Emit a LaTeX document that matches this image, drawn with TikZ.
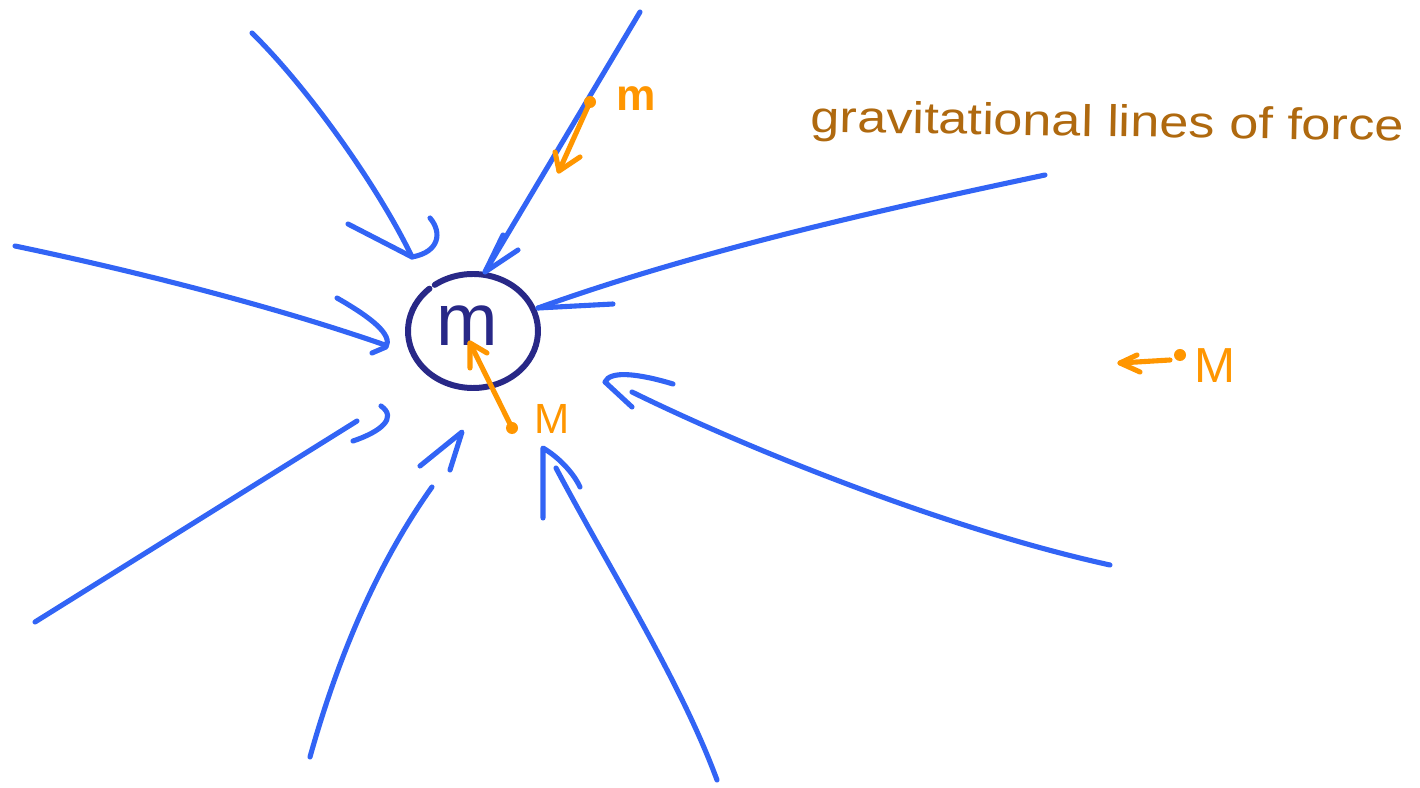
\documentclass[tikz,border=0pt]{standalone}
\usepackage{fontspec}
\setmainfont{Liberation Sans}
\definecolor{fieldblue}{RGB}{50,100,245}
\definecolor{pullorange}{RGB}{255,150,0}
\definecolor{textbrown}{RGB}{175,105,15}
\definecolor{massnavy}{RGB}{40,40,135}
\begin{document}
\begin{tikzpicture}[x=0.01cm,y=-0.01cm,
  field/.style={draw=fieldblue, line width=1.45pt, line cap=round, line join=round},
  pull/.style={draw=pullorange, line width=1.45pt, line cap=round, line join=round},
  massline/.style={draw=massnavy, line width=1.7pt, line cap=round},
  plabel/.style={text=pullorange, inner sep=0pt},
  dot/.style={fill=pullorange}]
\useasboundingbox (0,0) rectangle (1420,788);

% central mass
\coordinate (mass) at (473,331);
\draw[massline] (mass) ++(234:65 and 57) arc[start angle=234, end angle=588, x radius=65, y radius=57];
\node[anchor=base, text=massnavy, inner sep=0pt, font=\fontsize{21}{25}\selectfont] (mletter) at (467,346) {m};

% field lines: start / end coordinates
\coordinate (a1s) at (252,33);   \coordinate (a1t) at (412,257);
\coordinate (a2s) at (640,12);   \coordinate (a2t) at (485,272);
\coordinate (a3s) at (1045,175); \coordinate (a3t) at (538,308);
\coordinate (a4s) at (15,246);   \coordinate (a4t) at (385,345);
\coordinate (a5s) at (35,622);   \coordinate (a5t) at (357,421);
\coordinate (a6s) at (310,757);  \coordinate (a6t) at (432,487);
\coordinate (a7s) at (717,780);  \coordinate (a7t) at (556,468);
\coordinate (a8s) at (1110,565); \coordinate (a8t) at (632,392);

\draw[field] (a1s) .. controls (310,90) and (380,190) .. (a1t);
\draw[field] (a2s) -- (a2t);
\draw[field] (a3s) .. controls (880,210) and (700,250) .. (a3t);
\draw[field] (a4s) .. controls (130,270) and (270,305) .. (a4t);
\draw[field] (a5s) -- (a5t);
\draw[field] (a6s) .. controls (340,650) and (380,560) .. (a6t);
\draw[field] (a7s) .. controls (680,680) and (610,570) .. (a7t);
\draw[field] (a8s) .. controls (950,530) and (750,450) .. (a8t);

% hand-drawn heads
\draw[field] (348,224) -- (a1t) .. controls (440,252) and (442,232) .. (430,218);
\draw[field] (503,235) -- (a2t) -- (518,250);
\draw[field] (613,304) -- (a3t);
\draw[field] (337,298) .. controls (372,318) and (393,335) .. (386,347) -- (372,353);
\draw[field] (353,441) .. controls (380,432) and (398,418) .. (381,406);
\draw[field] (420,466) -- (462,432) -- (450,470);
\draw[field] (543,518) -- (543,448) .. controls (560,458) and (574,474) .. (580,487);
\draw[field] (673,384) .. controls (640,374) and (610,370) .. (605,382) -- (632,407);

% orange test masses
\coordinate (o1d) at (590,102); \coordinate (o1t) at (559,171);
\fill[dot] (o1d) circle[radius=0.06cm];
\draw[pull] (o1d) -- (o1t);
\draw[pull] (555,152) -- (o1t) -- (580,157);
\node[plabel, font=\bfseries\fontsize{12.6}{14}\selectfont] (m1) at (636,99) {m};

\coordinate (o2d) at (512,428); \coordinate (o2t) at (470,343);
\fill[dot] (o2d) circle[radius=0.06cm];
\draw[pull] (o2d) -- (o2t);
\draw[pull] (470,368) -- (o2t) -- (487,353);
\node[plabel, font=\fontsize{12}{14}\selectfont] (m2) at (552,419) {M};

\coordinate (o3d) at (1180,355); \coordinate (o3s) at (1170,360); \coordinate (o3t) at (1120,363);
\fill[dot] (o3d) circle[radius=0.06cm];
\draw[pull] (o3s) -- (o3t);
\draw[pull] (1137,355) -- (o3t) -- (1140,372);
\node[plabel, font=\fontsize{14}{16}\selectfont] (m3) at (1215,366) {M};

% title
\node[anchor=base west, text=textbrown, inner sep=0pt, font=\fontsize{12.6}{15}\selectfont, xscale=1.18, rotate=-1] (title) at (810,132) {gravitational lines of force};
\end{tikzpicture}
\end{document}
